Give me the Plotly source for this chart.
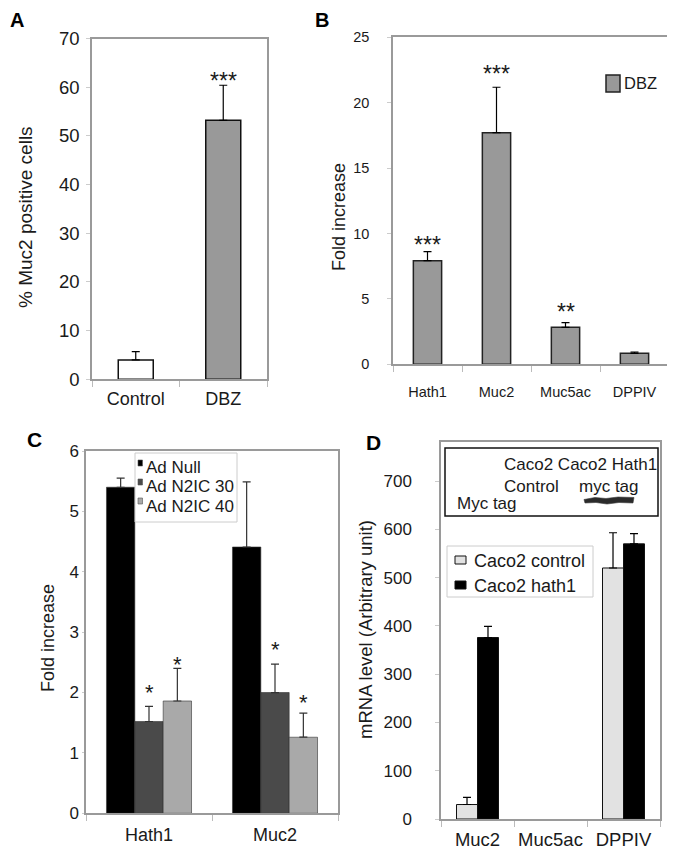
import plotly.graph_objects as go

# The page body adds an 8px margin; the figure is sized so that it exactly fills
# the visible 675x852 window and all positions below are in window pixels.
OFF = 8
W, H = 675 - OFF, 852 - OFF
FONT = "Liberation Sans, Arial, sans-serif"

# ---------------- data ----------------
# Panel A
a_cats = ["Control", "DBZ"]
a_vals = [3.97, 53.2]
a_err = [1.7, 7.2]
a_stars = ["", "***"]
a_star_y = [None, 61.8]

# Panel B
b_cats = ["Hath1", "Muc2", "Muc5ac", "DPPIV"]
b_vals = [7.92, 17.71, 2.83, 0.84]
b_err = [0.69, 3.47, 0.35, 0.1]
b_stars = ["***", "***", "**", ""]
b_star_y = [9.3, 22.4, 4.15, None]

# Panel C
c_cats = ["Hath1", "Muc2"]
c_series = ["Ad Null", "Ad N2IC 30", "Ad N2IC 40"]
c_null = [5.40, 4.41]
c_n30 = [1.52, 2.00]
c_n40 = [1.86, 1.26]
c_null_err = [0.15, 1.08]
c_n30_err = [0.25, 0.47]
c_n40_err = [0.54, 0.40]
c_star30_y = [2.04, 2.75]
c_star40_y = [2.50, 1.87]

# Panel D
d_cats = ["Muc2", "Muc5ac", "DPPIV"]
d_series = ["Caco2 control", "Caco2 hath1"]
d_control = [30, None, 520]
d_hath1 = [376, None, 570]
d_control_err = [15, 0, 73]
d_hath1_err = [23, 0, 21]

# ---------------- helpers ----------------
def px(x):
    return (x - OFF) / W

def py(y):
    return 1 - (y - OFF) / H

def dx(a, b):
    return [px(a), px(b)]

def dy(top, bottom):
    return [py(bottom), py(top)]

def err(arr, col="black", w=4):
    return dict(type="data", symmetric=False, array=arr,
                arrayminus=[0] * len(arr), color=col, thickness=1.2, width=w)

fig = go.Figure()

# Panel A
fig.add_trace(go.Bar(x=a_cats, y=a_vals, width=0.4,
                     marker=dict(color=["#ffffff", "#999999"],
                                 line=dict(color="#111", width=1.5)),
                     error_y=err(a_err), xaxis="x", yaxis="y", showlegend=False))

# Panel B
fig.add_trace(go.Bar(x=b_cats, y=b_vals, width=0.41, name="DBZ",
                     marker=dict(color="#999999", line=dict(color="#222", width=1.5)),
                     error_y=err(b_err), xaxis="x2", yaxis="y2", showlegend=False))

# Panel C
c_cols = ["#000000", "#4a4a4a", "#a9a9a9"]
for i, (name, vals, e) in enumerate(zip(c_series, [c_null, c_n30, c_n40],
                                        [c_null_err, c_n30_err, c_n40_err])):
    fig.add_trace(go.Bar(x=c_cats, y=vals, name=name, width=0.225,
                         offset=-0.3375 + 0.225 * i,
                         marker=dict(color=c_cols[i], line=dict(color="#333", width=0.6)),
                         error_y=err(e, "#333"), xaxis="x3", yaxis="y3",
                         showlegend=False))

# Panel D
d_cols = ["#e2e2e2", "#000000"]
for i, (name, vals, e) in enumerate(zip(d_series, [d_control, d_hath1],
                                        [d_control_err, d_hath1_err])):
    fig.add_trace(go.Bar(x=d_cats, y=vals, name=name, width=0.2875,
                         offset=-0.2875 + 0.2875 * i,
                         marker=dict(color=d_cols[i], line=dict(color="#111", width=1)),
                         error_y=err(e), xaxis="x4", yaxis="y4", showlegend=False))

# ---------------- axes ----------------
LINE = "#9a9a9a"
TXT = "#1a1a1a"

def xax(dom, anchor, n, fs, standoff, cats):
    return dict(domain=dom, anchor=anchor, type="category",
                categoryorder="array", categoryarray=cats,
                range=[-0.5, n - 0.5], showline=True, linecolor=LINE,
                linewidth=1.5, mirror=True, ticks="outside", tickson="boundaries",
                ticklen=6, tickcolor="#bbbbbb", showgrid=False, zeroline=False,
                tickangle=0, automargin=False,
                tickfont=dict(family=FONT, size=fs, color=TXT),
                ticklabelstandoff=standoff, fixedrange=True)

def yax(dom, anchor, rng, dt, fs, standoff, tl=4):
    return dict(domain=dom, anchor=anchor, range=rng, dtick=dt, showline=True,
                linecolor=LINE, linewidth=1.5, mirror=True, ticks="outside",
                ticklen=tl, tickcolor="#cccccc", showgrid=False, zeroline=False,
                automargin=False,
                tickfont=dict(family=FONT, size=fs, color=TXT),
                ticklabelstandoff=standoff, fixedrange=True)

fig.update_layout(
    xaxis=xax(dx(92, 267), "y", 2, 18, 2, a_cats),
    yaxis=yax(dy(38.5, 379.3), "x", [0, 70], 10, 18.5, 3),
    xaxis2=xax(dx(393, 669), "y2", 4, 14.5, 14, b_cats),
    yaxis2=yax(dy(37.3, 364.3), "x2", [0, 25], 5, 14.5, 15),
    xaxis3=xax(dx(86, 338), "y3", 2, 18, 4, c_cats),
    yaxis3=yax(dy(451, 813.3), "x3", [0, 6], 1, 17, 0, tl=2),
    xaxis4=xax(dx(441, 660), "y4", 3, 18.5, 3, d_cats),
    yaxis4=yax(dy(442, 819), "x4", [0, 781], 100, 17, 20),
)

# ---------------- annotations ----------------
ann = []

def star(text, x, y, xr, yr, fs):
    ann.append(dict(text=text, x=x, y=y, xref=xr, yref=yr, showarrow=False,
                    yanchor="middle", yshift=-0.1 * fs,
                    font=dict(family=FONT, size=fs, color=TXT)))

for i, (s, yv) in enumerate(zip(a_stars, a_star_y)):
    if s:
        star(s, i, yv, "x", "y", 23)
for i, (s, yv) in enumerate(zip(b_stars, b_star_y)):
    if s:
        star(s, i, yv, "x2", "y2", 23)
for i in range(len(c_cats)):
    star("*", i, c_star30_y[i], "x3", "y3", 22)
    star("*", i + 0.225, c_star40_y[i], "x3", "y3", 22)

def ptext(text, x, y, fs, bold=False, xanchor="left", angle=0, color=TXT):
    ann.append(dict(text=("<b>%s</b>" % text) if bold else text,
                    x=px(x), y=py(y), xref="paper", yref="paper",
                    showarrow=False, xanchor=xanchor, yanchor="middle",
                    textangle=angle, font=dict(family=FONT, size=fs, color=color)))

# panel letters
ptext("A", 17, 20, 20, bold=True, xanchor="center", color="#000")
ptext("B", 322, 20, 20, bold=True, xanchor="center", color="#000")
ptext("C", 34, 439, 21, bold=True, xanchor="center", color="#000")
ptext("D", 373, 443, 21, bold=True, xanchor="center", color="#000")

# axis titles
ptext("% Muc2 positive cells", 25, 217, 19, xanchor="center", angle=-90)
ptext("Fold increase", 339, 217, 18, xanchor="center", angle=-90)
ptext("Fold increase", 48, 638, 18, xanchor="center", angle=-90)
ptext("mRNA level (Arbitrary unit)", 365, 629, 18.5, xanchor="center", angle=-90)

shapes = []

def rect(x0, y0, x1, y1, fill, line="#333", lw=1):
    shapes.append(dict(type="rect", xref="paper", yref="paper",
                       x0=px(x0), x1=px(x1), y0=py(y1), y1=py(y0),
                       fillcolor=fill, line=dict(color=line, width=lw)))

# legend B
rect(606, 75, 620, 92, "#999999", "#222", 1.5)
ptext("DBZ", 622, 83, 16.5)

# legend C
rect(135, 453, 237, 522, "#ffffff", "#cccccc", 1)
for i, (name, col) in enumerate(zip(c_series, c_cols)):
    yc = 468 + 19 * i
    rect(138, yc - 8, 142.5, yc - 2, col, "#555", 0.6)
    ptext(name, 144, yc, 17)

# legend D
rect(447, 546, 593, 597, "#ffffff", "#cccccc", 1)
for i, (name, col) in enumerate(zip(d_series, d_cols)):
    yc = 561 + 25 * i
    rect(455, yc - 5, 466, yc + 3, col, "#111", 1)
    ptext(name, 472, yc, 18)

# inset (western blot) box in D
rect(445, 448, 658, 516, "rgba(255,255,255,0)", "#111", 1.5)
ptext("Caco2 Caco2 Hath1", 502, 465, 17)
ptext("Control", 502, 486, 17)
ptext("myc tag", 577, 486, 17)
ptext("Myc tag", 455, 504, 17)
# blot band
pts = [(584, 499.5), (595, 497.5), (606, 498.5), (618, 497), (634, 497.5),
       (633, 503), (619, 502.5), (607, 504), (596, 502.5), (585, 503)]
path = "M " + " L ".join("%f %f" % (px(x), py(y)) for x, y in pts) + " Z"
shapes.append(dict(type="path", xref="paper", yref="paper", path=path,
                   fillcolor="rgba(20,20,20,0.9)", line=dict(color="rgba(60,60,60,0.6)", width=1)))

fig.update_layout(
    width=W, height=H, margin=dict(l=0, r=0, t=0, b=0, autoexpand=False),
    paper_bgcolor="white", plot_bgcolor="white",
    barmode="overlay", showlegend=False,
    annotations=ann, shapes=shapes,
    font=dict(family=FONT, color=TXT),
)

fig.write_html("out.html")
